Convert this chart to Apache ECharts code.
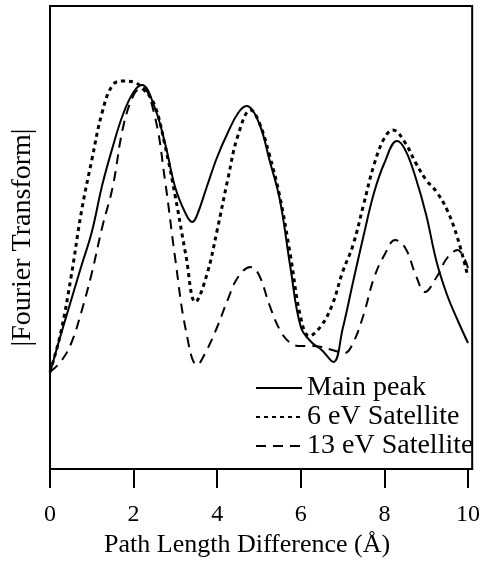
<!DOCTYPE html>
<html>
<head>
<meta charset="utf-8">
<script src="https://cdn.jsdelivr.net/npm/echarts@6/dist/echarts.min.js"></script>
<style>html,body{margin:0;padding:0;background:#fff;}#c{width:483px;height:567px;}</style>
</head>
<body>
<div id="c"></div>
<script>
// x: path length difference (Å); y: |Fourier transform| (arbitrary units)
var xTicks = [0, 2, 4, 6, 8, 10];
var seriesNames = ['Main peak', '6 eV Satellite', '13 eV Satellite'];

var mainX = [0, 0.25, 0.5, 0.75, 1.0, 1.25, 1.5, 1.75, 2.0, 2.2, 2.5, 2.75, 3.0, 3.25, 3.4, 3.5, 3.75, 4.0, 4.25, 4.5, 4.7, 5.0, 5.25, 5.5, 5.75, 6.0, 6.25, 6.5, 6.78, 7.0, 7.25, 7.5, 7.75, 8.0, 8.3, 8.5, 8.75, 9.0, 9.25, 9.5, 9.75, 10];
var mainY = [96, 133, 168, 203, 237, 284, 322, 355, 377, 384, 362, 326, 281, 255, 247, 252, 282, 312, 336, 356, 363, 346, 309, 269, 202, 142, 127, 119, 107, 140, 187, 233, 276, 306, 328, 319, 291, 254, 207, 174, 149, 126];

var sat6X = [0, 0.25, 0.5, 0.75, 1.0, 1.25, 1.5, 1.75, 2.0, 2.25, 2.5, 2.75, 3.0, 3.25, 3.48, 3.75, 4.0, 4.25, 4.5, 4.8, 5.0, 5.25, 5.5, 5.75, 6.0, 6.2, 6.5, 6.75, 7.0, 7.25, 7.5, 7.75, 8.0, 8.2, 8.5, 8.75, 9.0, 9.25, 9.5, 9.75, 10];
var sat6Y = [97, 135, 191, 257, 309, 357, 384, 388, 387, 379, 364, 324, 272, 214, 167, 194, 239, 289, 334, 359, 347, 314, 272, 214, 151, 133, 144, 164, 197, 224, 264, 304, 331, 339, 326, 306, 289, 277, 259, 231, 192];

var sat13X = [0, 0.25, 0.5, 0.75, 1.0, 1.25, 1.5, 1.75, 2.0, 2.2, 2.5, 2.75, 3.0, 3.25, 3.52, 3.75, 4.0, 4.25, 4.5, 4.8, 5.0, 5.25, 5.5, 5.75, 6.0, 6.25, 6.5, 6.75, 7.05, 7.25, 7.5, 7.75, 8.0, 8.26, 8.5, 8.75, 8.97, 9.25, 9.5, 9.75, 10];
var sat13Y = [97, 107, 125, 157, 196, 242, 282, 342, 374, 382, 354, 289, 209, 139, 104, 119, 142, 169, 192, 202, 194, 164, 139, 126, 123, 123, 122, 119, 116, 126, 154, 191, 214, 229, 221, 194, 177, 192, 211, 219, 201];

function pairs(xs, ys) { return xs.map(function (x, i) { return [x, ys[i]]; }); }

var FONT = 'Liberation Serif';
var chart = echarts.init(document.getElementById('c'));
chart.setOption({
  animation: false,
  backgroundColor: '#fff',
  grid: { left: 50, right: 9, top: 6, bottom: 98, show: true, borderColor: '#000', borderWidth: 2, backgroundColor: 'transparent' },
  legend: {
    orient: 'vertical', left: 250, top: 369,
    itemWidth: 46, itemHeight: 14, itemGap: 1,
    itemStyle: { opacity: 0, borderWidth: 0 },
    textStyle: { fontFamily: FONT, fontSize: 28, color: '#000' },
    data: seriesNames
  },
  xAxis: {
    type: 'value', min: 0, max: 10.1,
    name: 'Path Length Difference (Å)', nameLocation: 'middle', nameGap: 59,
    nameTextStyle: { fontFamily: FONT, fontSize: 26, color: '#000', padding: [0, 28, 0, 0] },
    axisLine: { show: true, onZero: false, lineStyle: { color: '#000', width: 2 } },
    axisTick: { show: true, inside: false, length: 19, customValues: xTicks, lineStyle: { color: '#000', width: 2 } },
    axisLabel: { customValues: xTicks, margin: 34, fontFamily: FONT, fontSize: 24, color: '#000' },
    splitLine: { show: false }
  },
  yAxis: {
    type: 'value', min: 0, max: 463,
    name: '|Fourier Transform|', nameLocation: 'middle', nameGap: 13,
    nameTextStyle: { fontFamily: FONT, fontSize: 28, color: '#000' },
    axisLine: { show: true, lineStyle: { color: '#000', width: 2 } },
    axisTick: { show: false }, axisLabel: { show: false }, splitLine: { show: false }
  },
  series: [
    { name: seriesNames[0], type: 'line', smooth: 0.4, symbol: 'none', data: pairs(mainX, mainY),
      lineStyle: { color: '#000', width: 2, type: 'solid' }, itemStyle: { color: '#000' } },
    { name: seriesNames[1], type: 'line', smooth: 0.4, symbol: 'none', data: pairs(sat6X, sat6Y),
      lineStyle: { color: '#000', width: 3, type: [4, 4] }, itemStyle: { color: '#000' } },
    { name: seriesNames[2], type: 'line', smooth: 0.4, symbol: 'none', data: pairs(sat13X, sat13Y),
      lineStyle: { color: '#000', width: 2, type: [10, 7] }, itemStyle: { color: '#000' } }
  ]
});
</script>
</body>
</html>
